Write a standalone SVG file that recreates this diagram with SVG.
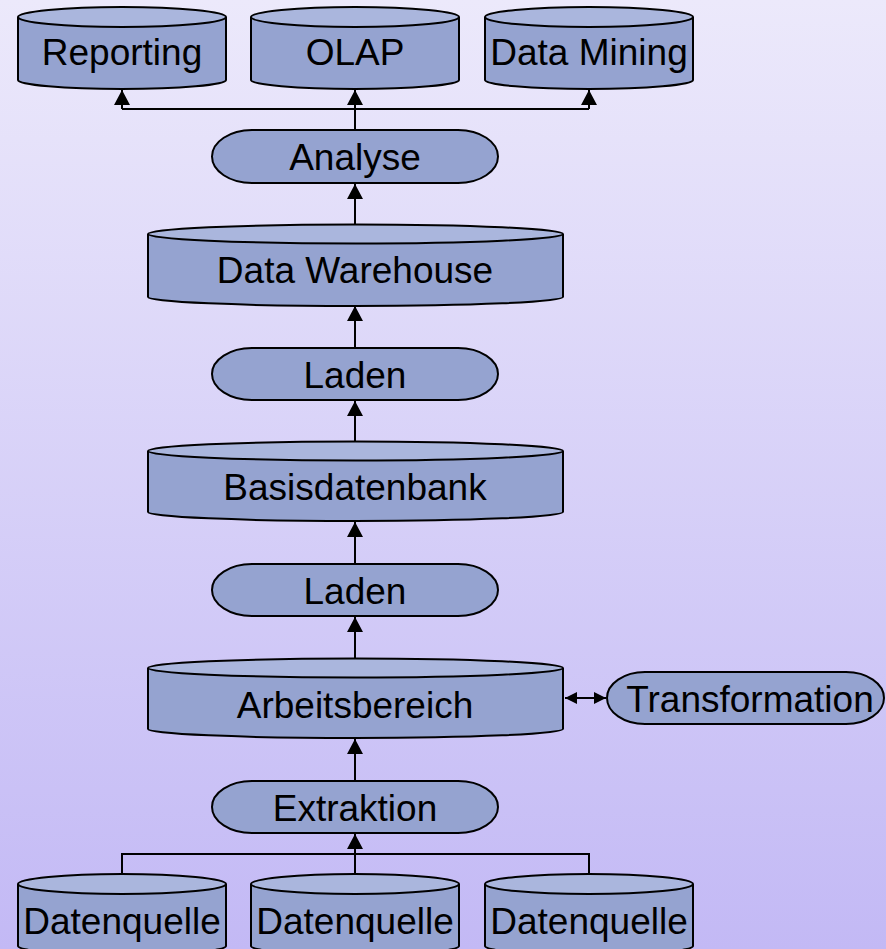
<svg xmlns="http://www.w3.org/2000/svg" width="886" height="949" viewBox="0 0 886 949">
<defs>
<linearGradient id="bg" x1="0" y1="0" x2="0" y2="1">
<stop offset="0" stop-color="#ECE9FB"/>
<stop offset="1" stop-color="#C3B9F5"/>
</linearGradient>
<marker id="arr" viewBox="0 0 15 16" refX="15" refY="8" markerWidth="15" markerHeight="16" markerUnits="userSpaceOnUse" orient="auto-start-reverse">
<path d="M0,0 L15,8 L0,16 z" fill="#000"/>
</marker>
<marker id="arr2" viewBox="0 0 12 12" refX="12" refY="6" markerWidth="12" markerHeight="12" markerUnits="userSpaceOnUse" orient="auto-start-reverse">
<path d="M0,0 L12,6 L0,12 z" fill="#000"/>
</marker>
</defs>
<style>
.body{fill:#95A3D0;stroke:#000;stroke-width:2}
.top{fill:#AAB6DD;stroke:#000;stroke-width:2}
.proc{fill:#95A3D0;stroke:#000;stroke-width:2}
.lbl{font-family:"Liberation Sans",Arial,sans-serif;font-size:37px;fill:#000;text-anchor:middle}
.con{fill:none;stroke:#000;stroke-width:2}
</style>
<rect x="0" y="0" width="886" height="949" fill="url(#bg)"/>

<g id="connectors">
<path class="con" d="M355,130 L355,109 M122,109 L589,109"/>
<path class="con" d="M122,109 L122,90" marker-end="url(#arr)"/>
<path class="con" d="M355,109 L355,90" marker-end="url(#arr)"/>
<path class="con" d="M589,109 L589,90" marker-end="url(#arr)"/>
<path class="con" d="M355,225 L355,184" marker-end="url(#arr)"/>
<path class="con" d="M355,348 L355,306" marker-end="url(#arr)"/>
<path class="con" d="M355,442 L355,401" marker-end="url(#arr)"/>
<path class="con" d="M355,564 L355,522" marker-end="url(#arr)"/>
<path class="con" d="M355,659 L355,617" marker-end="url(#arr)"/>
<path class="con" d="M355,781 L355,739" marker-end="url(#arr)"/>
<path class="con" d="M122,875 L122,854 L589,854 L589,875 M355,875 L355,854"/>
<path class="con" d="M355,854 L355,834" marker-end="url(#arr)"/>
<path class="con" d="M565,698 L606,698" marker-start="url(#arr2)" marker-end="url(#arr2)"/>
</g>

<g id="reporting">
<path class="body" d="M18,17 L18,80 A104,9 0 0 0 226,80 L226,17"/>
<ellipse class="top" cx="122" cy="17" rx="104" ry="10"/>
<text class="lbl" x="122" y="65">Reporting</text>
</g>
<g id="olap">
<path class="body" d="M251,17 L251,80 A104,9 0 0 0 459,80 L459,17"/>
<ellipse class="top" cx="355" cy="17" rx="104" ry="10"/>
<text class="lbl" x="355" y="65">OLAP</text>
</g>
<g id="datamining">
<path class="body" d="M485,17 L485,80 A104,9 0 0 0 693,80 L693,17"/>
<ellipse class="top" cx="589" cy="17" rx="104" ry="10"/>
<text class="lbl" x="589" y="65">Data Mining</text>
</g>

<g id="analyse">
<rect class="proc" x="212" y="130" width="286" height="53" rx="40" ry="26.5"/>
<text class="lbl" x="355" y="170">Analyse</text>
</g>

<g id="datawarehouse">
<path class="body" d="M148,234 L148,297 A207.5,9 0 0 0 563,297 L563,234"/>
<ellipse class="top" cx="355.5" cy="234" rx="207.5" ry="9.5"/>
<text class="lbl" x="355" y="283">Data Warehouse</text>
</g>

<g id="laden1">
<rect class="proc" x="212" y="348" width="286" height="52" rx="40" ry="26"/>
<text class="lbl" x="355" y="388">Laden</text>
</g>

<g id="basisdatenbank">
<path class="body" d="M148,451 L148,512 A207.5,9 0 0 0 563,512 L563,451"/>
<ellipse class="top" cx="355.5" cy="451" rx="207.5" ry="9.5"/>
<text class="lbl" x="355" y="500">Basisdatenbank</text>
</g>

<g id="laden2">
<rect class="proc" x="212" y="564" width="286" height="52" rx="40" ry="26"/>
<text class="lbl" x="355" y="604">Laden</text>
</g>

<g id="arbeitsbereich">
<path class="body" d="M148,668 L148,729 A207.5,9 0 0 0 563,729 L563,668"/>
<ellipse class="top" cx="355.5" cy="668" rx="207.5" ry="9.5"/>
<text class="lbl" x="355" y="718">Arbeitsbereich</text>
</g>

<g id="transformation">
<rect class="proc" x="607" y="672" width="277" height="52" rx="38" ry="26"/>
<text class="lbl" x="750" y="712">Transformation</text>
</g>

<g id="extraktion">
<rect class="proc" x="212" y="781" width="286" height="52" rx="40" ry="26"/>
<text class="lbl" x="355" y="821">Extraktion</text>
</g>

<g id="datenquelle1">
<path class="body" d="M18,884 L18,946 A104,9 0 0 0 226,946 L226,884"/>
<ellipse class="top" cx="122" cy="884" rx="104" ry="10"/>
<text class="lbl" x="122" y="934">Datenquelle</text>
</g>
<g id="datenquelle2">
<path class="body" d="M251,884 L251,946 A104,9 0 0 0 459,946 L459,884"/>
<ellipse class="top" cx="355" cy="884" rx="104" ry="10"/>
<text class="lbl" x="355" y="934">Datenquelle</text>
</g>
<g id="datenquelle3">
<path class="body" d="M485,884 L485,946 A104,9 0 0 0 693,946 L693,884"/>
<ellipse class="top" cx="589" cy="884" rx="104" ry="10"/>
<text class="lbl" x="589" y="934">Datenquelle</text>
</g>
</svg>
